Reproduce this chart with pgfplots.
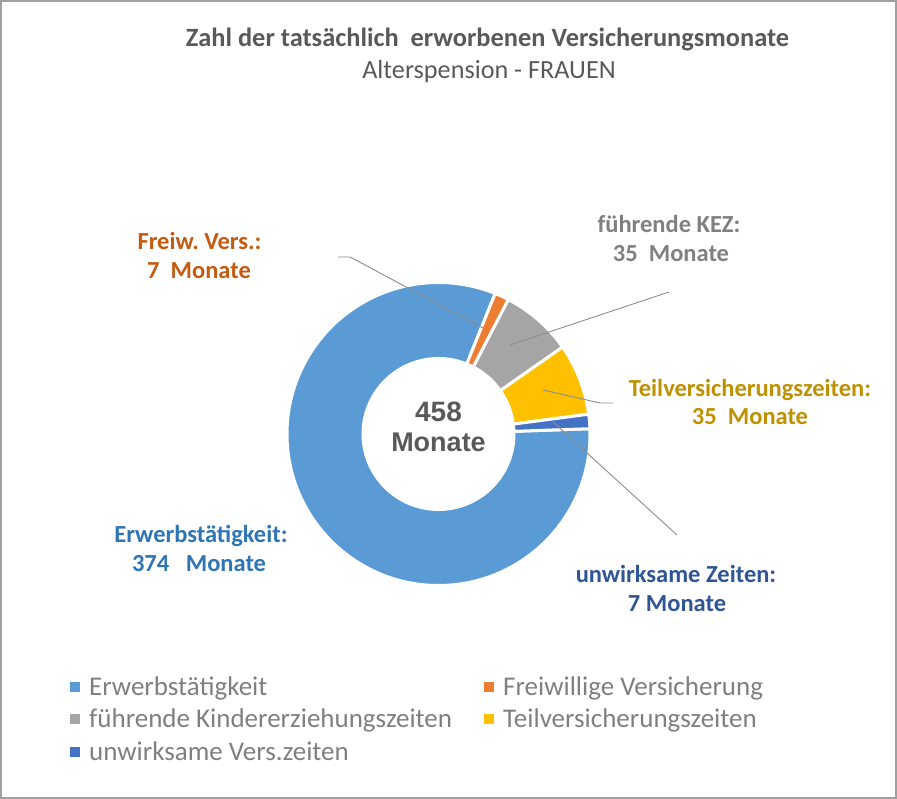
\documentclass[border=0pt]{standalone}
\usepackage{pgfplots}
\pgfplotsset{compat=1.18}
\usepackage{pgfplotstable}
\usepackage{fontspec}
\setmainfont{Carlito}
\newfontfamily\arialfont{Liberation Sans}

\definecolor{cErw}{HTML}{5B9BD5}
\definecolor{cFrei}{HTML}{ED7D31}
\definecolor{cKez}{HTML}{A5A5A5}
\definecolor{cTeil}{HTML}{FFC000}
\definecolor{cUnw}{HTML}{4472C4}
\definecolor{lErw}{HTML}{2E75B6}
\definecolor{lFrei}{HTML}{C55A11}
\definecolor{lKez}{HTML}{808080}
\definecolor{lTeil}{HTML}{BF9000}
\definecolor{lUnw}{HTML}{2F5597}
\definecolor{txtgray}{HTML}{595959}
\definecolor{leggray}{HTML}{7F7F7F}
\definecolor{leadgray}{HTML}{8C8C8C}
\definecolor{framegray}{HTML}{A0A0A0}

\pgfplotstableread{
name value
Erwerb 374
Freiw 7
KEZ 35
Teil 35
Unw 7
}\slicedata

\newcommand\slice[3]{%
  \filldraw[fill=#1, draw=white, line width=3pt]
    (axis cs:{438.5+151.5*cos(#2)},{365+151.5*sin(#2)})
    arc[start angle=#2, end angle=#3, radius=151.5pt]
    -- (axis cs:{438.5+75.5*cos(#3)},{365+75.5*sin(#3)})
    arc[start angle=#3, end angle=#2, radius=75.5pt] -- cycle;}

\begin{document}
\begin{tikzpicture}
\useasboundingbox (0pt,0pt) rectangle (897pt,799pt);
\pgfplotstablegetelem{0}{value}\of\slicedata \pgfmathsetmacro\vA{\pgfplotsretval}
\pgfplotstablegetelem{1}{value}\of\slicedata \pgfmathsetmacro\vB{\pgfplotsretval}
\pgfplotstablegetelem{2}{value}\of\slicedata \pgfmathsetmacro\vC{\pgfplotsretval}
\pgfplotstablegetelem{3}{value}\of\slicedata \pgfmathsetmacro\vD{\pgfplotsretval}
\pgfplotstablegetelem{4}{value}\of\slicedata \pgfmathsetmacro\vE{\pgfplotsretval}
\pgfmathsetmacro\tot{\vA+\vB+\vC+\vD+\vE}
\pgfmathsetmacro\aA{2}
\pgfmathsetmacro\aB{\aA-\vA/\tot*360}
\pgfmathsetmacro\aC{\aB-\vB/\tot*360}
\pgfmathsetmacro\aD{\aC-\vC/\tot*360}
\pgfmathsetmacro\aE{\aD-\vD/\tot*360}
\pgfmathsetmacro\aF{\aE-\vE/\tot*360}
\begin{axis}[x=1pt, y=1pt, xmin=0, xmax=897, ymin=0, ymax=799,
  hide axis, clip=false, at={(0pt,0pt)}, anchor=south west]
  % donut slices
  \slice{cErw}{\aA}{\aB}
  \slice{cFrei}{\aB}{\aC}
  \slice{cKez}{\aC}{\aD}
  \slice{cTeil}{\aD}{\aE}
  \slice{cUnw}{\aE}{\aF}
  % leader lines
  \draw[leadgray, line width=0.9pt] (axis cs:338,542) -- (axis cs:350,542) -- (axis cs:483,471);
  \draw[leadgray, line width=0.9pt] (axis cs:510,454) -- (axis cs:669,507);
  \draw[leadgray, line width=0.9pt] (axis cs:543,409) -- (axis cs:600,396) -- (axis cs:613,396);
  \draw[leadgray, line width=0.9pt] (axis cs:553,377) -- (axis cs:677,264);
  % centre text
  \node[font=\arialfont\fontsize{28}{30}\selectfont\bfseries, text=txtgray, anchor=base] at (axis cs:438.5,377) {458};
  \node[font=\arialfont\fontsize{27}{30}\selectfont\bfseries, text=txtgray, anchor=base] at (axis cs:438.5,347) {Monate};
  % data labels
  \tikzset{lab/.style={font=\fontsize{24.5}{28}\selectfont\bfseries, anchor=base, inner sep=0pt}}
  \node[lab, text=lFrei] at (axis cs:199.5,549) {Freiw.\ Vers.:};
  \node[lab, text=lFrei] at (axis cs:199,520) {7\ \ Monate};
  \node[lab, text=lKez] at (axis cs:669,566) {führende KEZ:};
  \node[lab, text=lKez] at (axis cs:671,537) {35\ \ Monate};
  \node[lab, text=lTeil] at (axis cs:750,402) {Teilversicherungszeiten:};
  \node[lab, text=lTeil] at (axis cs:750,374) {35\ \ Monate};
  \node[lab, text=lUnw] at (axis cs:676,216) {unwirksame Zeiten:};
  \node[lab, text=lUnw] at (axis cs:677,187) {7 Monate};
  \node[lab, text=lErw] at (axis cs:201,256) {Erwerbstätigkeit:};
  \node[lab, text=lErw] at (axis cs:199,227) {374\ \ \ Monate};
  % title
  \node[font=\fontsize{26.4}{30}\selectfont\bfseries, text=txtgray, anchor=base, inner sep=0pt] at (axis cs:487.5,752) {Zahl der tatsächlich\ \ erworbenen Versicherungsmonate};
  \node[font=\fontsize{26.2}{30}\selectfont, text=txtgray, anchor=base, inner sep=0pt] at (axis cs:489,720) {Alterspension - FRAUEN};
  % legend
  \tikzset{leg/.style={font=\fontsize{27}{30}\selectfont, text=leggray, anchor=base west, inner sep=0pt}}
  \fill[cErw] (axis cs:70,107) rectangle (axis cs:80,117);
  \node[leg] at (axis cs:89,103) {Erwerbstätigkeit};
  \fill[cFrei] (axis cs:484,107) rectangle (axis cs:494,117);
  \node[leg] at (axis cs:503,103) {Freiwillige Versicherung};
  \fill[cKez] (axis cs:70,75) rectangle (axis cs:80,85);
  \node[leg] at (axis cs:89,71) {führende Kindererziehungszeiten};
  \fill[cTeil] (axis cs:484,75) rectangle (axis cs:494,85);
  \node[leg] at (axis cs:503,71) {Teilversicherungszeiten};
  \fill[cUnw] (axis cs:70,42) rectangle (axis cs:80,52);
  \node[leg] at (axis cs:89,38) {unwirksame Vers.zeiten};
\end{axis}
\draw[framegray, line width=2pt] (1pt,1pt) rectangle (896pt,798pt);
\end{tikzpicture}
\end{document}
